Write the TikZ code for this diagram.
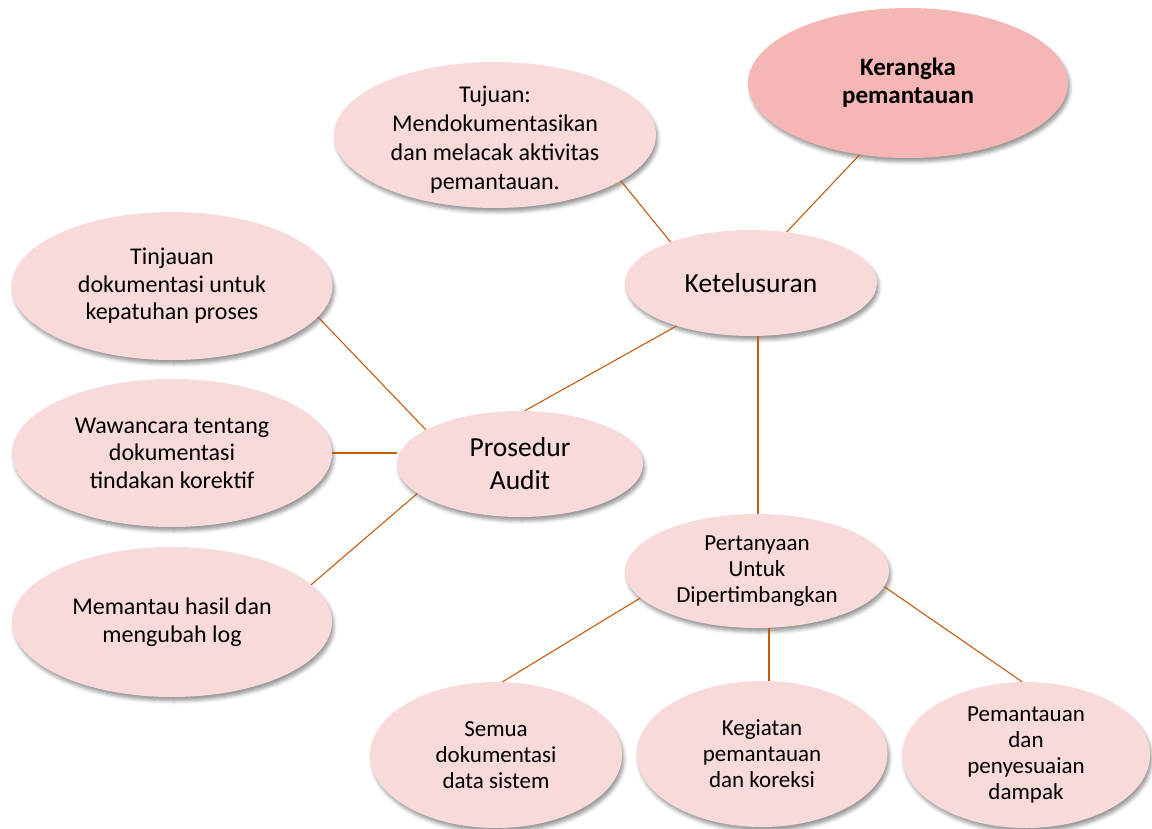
\documentclass[tikz,border=0pt]{standalone}
\usepackage{fontspec}
\setmainfont{Carlito}
\usetikzlibrary{shapes.geometric,shadows.blur}
\definecolor{bubfill}{HTML}{F9DADA}
\definecolor{topfill}{HTML}{F5B6B6}
\definecolor{linkcol}{HTML}{C55A11}
\tikzset{
  bub/.style={ellipse, fill=bubfill, inner sep=0pt, draw=none,
    blur shadow={shadow xshift=2pt, shadow yshift=-4pt, shadow blur radius=3.5pt, shadow opacity=40}},
  topbub/.style={bub, fill=topfill},
  txt/.style={align=center, inner sep=0pt, text=black},
  link/.style={draw=linkcol, line width=1.1pt}
}
\newcommand{\fa}{\fontsize{24}{29}\selectfont}
\newcommand{\fb}{\fontsize{27.5}{33}\selectfont}
\newcommand{\fc}{\fontsize{24}{27.5}\selectfont}
\newcommand{\fd}{\fontsize{23}{26}\selectfont}
\newcommand{\fk}{\fontsize{25}{28}\selectfont\bfseries}
\begin{document}
\begin{tikzpicture}[x=1pt,y=-1pt]
\useasboundingbox (0,0) rectangle (1152,829);
% ellipses
\node[topbub, minimum width=320pt, minimum height=150pt] (ker) at (908,83) {};
\node[bub, minimum width=322pt, minimum height=146pt] (tuj) at (495,135) {};
\node[bub, minimum width=252pt, minimum height=106pt] (ket) at (751,283) {};
\node[bub, minimum width=246pt, minimum height=106pt] (pro) at (520,464) {};
\node[bub, minimum width=321pt, minimum height=148pt] (tin) at (172,286) {};
\node[bub, minimum width=320pt, minimum height=148pt] (waw) at (172,453) {};
\node[bub, minimum width=320pt, minimum height=150pt] (mem) at (172,622) {};
\node[bub, minimum width=264pt, minimum height=114pt] (pq) at (757,571) {};
\node[bub, minimum width=252pt, minimum height=146pt] (sem) at (496,755) {};
\node[bub, minimum width=251pt, minimum height=146pt] (keg) at (762,754) {};
\node[bub, minimum width=248pt, minimum height=146pt] (pem) at (1026,755) {};
% texts
\node[txt, font=\fk] (tker) at (ker) {Kerangka\\pemantauan};
\node[txt, font=\fa] (ttuj) at (495,140) {Tujuan:\\Mendokumentasikan\\dan melacak aktivitas\\pemantauan.};
\node[txt, font=\fb] (tket) at (ket) {Ketelusuran};
\node[txt, font=\fb] (tpro) at (pro) {Prosedur\\Audit};
\node[txt, font=\fc] (ttin) at (tin) {Tinjauan\\dokumentasi untuk\\kepatuhan proses};
\node[txt, font=\fc] (twaw) at (waw) {Wawancara tentang\\dokumentasi\\tindakan korektif};
\node[txt, font=\fc] (tmem) at (mem) {Memantau hasil dan\\mengubah log};
\node[txt, font=\fd] (tpq) at (pq) {Pertanyaan\\Untuk\\Dipertimbangkan};
\node[txt, font=\fd] (tsem) at (sem) {Semua\\dokumentasi\\data sistem};
\node[txt, font=\fd] (tkeg) at (keg) {Kegiatan\\pemantauan\\dan koreksi};
\node[txt, font=\fd] (tpem) at (pem) {Pemantauan\\dan\\penyesuaian\\dampak};
% connectors
\draw[link] (ker.236) -- (ket.55);
\draw[link] (tuj.340) -- (ket.153);
\draw[link] (ket.210) -- (pro.85);
\draw[link] ([xshift=7pt]ket.south) -- ([xshift=7pt]ket.south |- pq.north);
\draw[link] (tin.348) -- (pro.160);
\draw[link] (waw.east) -- (waw.east -| pro.west);
\draw[link] (mem.15) -- (pro.196);
\draw[link] (pq.193) -- (sem.85);
\draw[link] ([xshift=7pt]keg.north) -- ([xshift=7pt]keg.north |- pq.south);
\draw[link] (pq.353) -- (pem.93);
\end{tikzpicture}
\end{document}
